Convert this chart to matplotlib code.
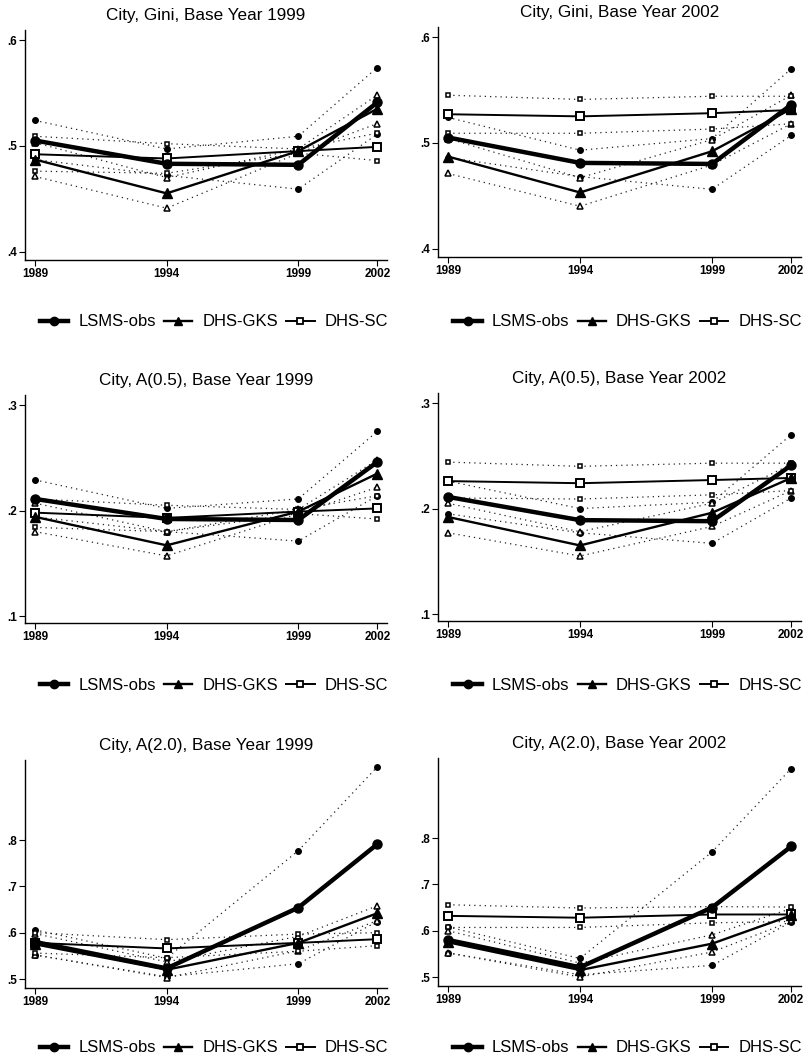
import matplotlib
matplotlib.use("Agg")
import matplotlib.pyplot as plt
from matplotlib.lines import Line2D

plt.rcParams['font.family'] = ['Liberation Sans', 'DejaVu Sans']

years = [1989, 1994, 1999, 2002]
series_names = ["LSMS-obs", "DHS-GKS", "DHS-SC"]

# Panel 1: City, Gini, Base Year 1999
gini99_lsms = [0.505, 0.483, 0.482, 0.541]
gini99_lsms_hi = [0.524, 0.497, 0.509, 0.574]
gini99_lsms_lo = [0.487, 0.472, 0.459, 0.511]
gini99_gks = [0.487, 0.455, 0.495, 0.535]
gini99_gks_hi = [0.503, 0.470, 0.497, 0.548]
gini99_gks_lo = [0.471, 0.441, 0.493, 0.521]
gini99_sc = [0.492, 0.488, 0.495, 0.499]
gini99_sc_hi = [0.509, 0.502, 0.497, 0.512]
gini99_sc_lo = [0.476, 0.474, 0.493, 0.486]

# Panel 2: City, Gini, Base Year 2002
gini02_lsms = [0.505, 0.481, 0.480, 0.536]
gini02_lsms_hi = [0.524, 0.493, 0.504, 0.570]
gini02_lsms_lo = [0.486, 0.468, 0.456, 0.507]
gini02_gks = [0.487, 0.453, 0.492, 0.532]
gini02_gks_hi = [0.504, 0.467, 0.503, 0.545]
gini02_gks_lo = [0.471, 0.440, 0.479, 0.518]
gini02_sc = [0.527, 0.525, 0.528, 0.531]
gini02_sc_hi = [0.545, 0.541, 0.544, 0.544]
gini02_sc_lo = [0.509, 0.509, 0.513, 0.518]

# Panel 3: City, A(0.5), Base Year 1999
a05_99_lsms = [0.211, 0.192, 0.191, 0.246]
a05_99_lsms_hi = [0.229, 0.202, 0.211, 0.275]
a05_99_lsms_lo = [0.194, 0.180, 0.171, 0.214]
a05_99_gks = [0.194, 0.167, 0.199, 0.235]
a05_99_gks_hi = [0.207, 0.180, 0.201, 0.248]
a05_99_gks_lo = [0.180, 0.157, 0.197, 0.222]
a05_99_sc = [0.198, 0.193, 0.199, 0.202]
a05_99_sc_hi = [0.211, 0.205, 0.201, 0.214]
a05_99_sc_lo = [0.184, 0.180, 0.197, 0.192]

# Panel 4: City, A(0.5), Base Year 2002
a05_02_lsms = [0.211, 0.189, 0.188, 0.241]
a05_02_lsms_hi = [0.226, 0.200, 0.206, 0.270]
a05_02_lsms_lo = [0.195, 0.177, 0.167, 0.210]
a05_02_gks = [0.192, 0.165, 0.196, 0.229]
a05_02_gks_hi = [0.205, 0.178, 0.205, 0.242]
a05_02_gks_lo = [0.177, 0.155, 0.183, 0.217]
a05_02_sc = [0.226, 0.224, 0.227, 0.229]
a05_02_sc_hi = [0.244, 0.240, 0.243, 0.243]
a05_02_sc_lo = [0.210, 0.209, 0.213, 0.217]

# Panel 5: City, A(2.0), Base Year 1999
a20_99_lsms = [0.580, 0.523, 0.654, 0.791]
a20_99_lsms_hi = [0.606, 0.545, 0.777, 0.958]
a20_99_lsms_lo = [0.552, 0.505, 0.533, 0.624]
a20_99_gks = [0.575, 0.520, 0.578, 0.642]
a20_99_gks_hi = [0.598, 0.537, 0.592, 0.658]
a20_99_gks_lo = [0.552, 0.503, 0.561, 0.626]
a20_99_sc = [0.578, 0.566, 0.578, 0.586]
a20_99_sc_hi = [0.600, 0.585, 0.597, 0.600]
a20_99_sc_lo = [0.556, 0.546, 0.560, 0.572]

# Panel 6: City, A(2.0), Base Year 2002
a20_02_lsms = [0.580, 0.521, 0.650, 0.782]
a20_02_lsms_hi = [0.608, 0.540, 0.770, 0.950]
a20_02_lsms_lo = [0.552, 0.505, 0.525, 0.619]
a20_02_gks = [0.575, 0.515, 0.572, 0.633]
a20_02_gks_hi = [0.600, 0.530, 0.591, 0.648]
a20_02_gks_lo = [0.552, 0.500, 0.554, 0.620]
a20_02_sc = [0.632, 0.628, 0.635, 0.635]
a20_02_sc_hi = [0.656, 0.649, 0.652, 0.651]
a20_02_sc_lo = [0.607, 0.607, 0.617, 0.620]

titles = ["City, Gini, Base Year 1999", "City, Gini, Base Year 2002",
          "City, A(0.5), Base Year 1999", "City, A(0.5), Base Year 2002",
          "City, A(2.0), Base Year 1999", "City, A(2.0), Base Year 2002"]

panels = [
    (gini99_lsms, gini99_lsms_hi, gini99_lsms_lo, gini99_gks, gini99_gks_hi, gini99_gks_lo, gini99_sc, gini99_sc_hi, gini99_sc_lo),
    (gini02_lsms, gini02_lsms_hi, gini02_lsms_lo, gini02_gks, gini02_gks_hi, gini02_gks_lo, gini02_sc, gini02_sc_hi, gini02_sc_lo),
    (a05_99_lsms, a05_99_lsms_hi, a05_99_lsms_lo, a05_99_gks, a05_99_gks_hi, a05_99_gks_lo, a05_99_sc, a05_99_sc_hi, a05_99_sc_lo),
    (a05_02_lsms, a05_02_lsms_hi, a05_02_lsms_lo, a05_02_gks, a05_02_gks_hi, a05_02_gks_lo, a05_02_sc, a05_02_sc_hi, a05_02_sc_lo),
    (a20_99_lsms, a20_99_lsms_hi, a20_99_lsms_lo, a20_99_gks, a20_99_gks_hi, a20_99_gks_lo, a20_99_sc, a20_99_sc_hi, a20_99_sc_lo),
    (a20_02_lsms, a20_02_lsms_hi, a20_02_lsms_lo, a20_02_gks, a20_02_gks_hi, a20_02_gks_lo, a20_02_sc, a20_02_sc_hi, a20_02_sc_lo),
]

row_yticks = [[0.4, 0.5, 0.6], [0.1, 0.2, 0.3], [0.5, 0.6, 0.7, 0.8]]
row_ylim = [(0.392, 0.6095), (0.0934, 0.3095), (0.4806, 0.9728)]
row_ticklabels = [[".4", ".5", ".6"], [".1", ".2", ".3"], [".5", ".6", ".7", ".8"]]

W, H = 812, 1061
fig = plt.figure(figsize=(W / 100, H / 100), dpi=100)

# pixel boxes: (left, right, top, bottom)
col_x = [(25, 387), (438, 801)]
row_y = [[(30, 260), (27, 257)], [(395, 623), (393, 621)], [(760, 988), (758, 986)]]
legend_y = [322, 685, 1048]

dot = (0, (1, 3.2))
ci_col = '#222222'

for i in range(6):
    r, c = divmod(i, 2)
    x0, x1 = col_x[c]
    t, b = row_y[r][c]
    ax = fig.add_axes([x0 / W, 1 - b / H, (x1 - x0) / W, (b - t) / H])
    (lsms, lhi, llo, gks, ghi, glo, sc, shi, slo) = panels[i]

    ci_kw = dict(color=ci_col, lw=0.9, ls=dot, zorder=2)
    ax.plot(years, lhi, marker='o', ms=4, mfc='black', mec='black', **ci_kw)
    ax.plot(years, llo, marker='o', ms=4, mfc='black', mec='black', **ci_kw)
    ax.plot(years, ghi, marker='^', ms=4, mfc='white', mec='black', mew=1.1, **ci_kw)
    ax.plot(years, glo, marker='^', ms=4, mfc='white', mec='black', mew=1.1, **ci_kw)
    ax.plot(years, shi, marker='s', ms=3.5, mfc='white', mec='black', mew=1.1, **ci_kw)
    ax.plot(years, slo, marker='s', ms=3.5, mfc='white', mec='black', mew=1.1, **ci_kw)

    ax.plot(years, sc, color='black', lw=1.4, marker='s', ms=5.5, mfc='white',
            mec='black', mew=1.4, zorder=3)
    ax.plot(years, gks, color='black', lw=1.7, marker='^', ms=6.5, mfc='black',
            mec='black', zorder=4)
    ax.plot(years, lsms, color='black', lw=3.2, marker='o', ms=6.5, mfc='black',
            mec='black', zorder=5)

    ax.set_xlim(1988.62, 2002.37)
    ax.set_ylim(*row_ylim[r])
    ax.set_xticks(years)
    ax.set_xticklabels([str(y) for y in years], fontsize=8.5, fontweight='bold')
    ax.set_yticks(row_yticks[r])
    ax.set_yticklabels(row_ticklabels[r], fontsize=8.5, fontweight='bold')
    ax.tick_params(direction='out', length=4, width=0.8, pad=2)
    for s in ['top', 'right']:
        ax.spines[s].set_visible(False)
    for s in ['left', 'bottom']:
        ax.spines[s].set_linewidth(1.0)
    ax.set_title(titles[i], fontsize=12.3, pad=7)

    handles = [
        Line2D([], [], color='black', lw=3.2, marker='o', ms=6, mfc='black'),
        Line2D([], [], color='black', lw=1.7, marker='^', ms=6, mfc='black'),
        Line2D([], [], color='black', lw=1.4, marker='s', ms=5, mfc='white', mew=1.3),
    ]
    cx = (x0 + x1) / 2 + 8
    fig.legend(handles, series_names, loc='center', ncol=3, frameon=False,
               bbox_to_anchor=(cx / W, 1 - legend_y[r] / H),
               fontsize=12, handlelength=1.7, handletextpad=0.6,
               columnspacing=0.5, borderpad=0)

fig.savefig("out.png", dpi=100)
